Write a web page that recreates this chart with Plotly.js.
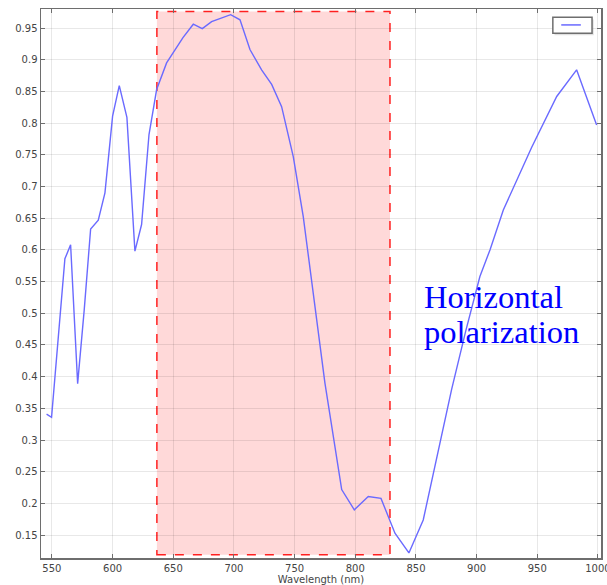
<!DOCTYPE html>
<html>
<head>
<meta charset="utf-8">
<script src="https://cdn.plot.ly/plotly-3.0.1.min.js"></script>
<style>html,body{margin:0;padding:0;background:#fff;}#chart{width:607px;height:585px;}</style>
</head>
<body>
<div id="chart"></div>
<script>
const wavelength = [545.6, 549.7, 560.7, 565.4, 571.2, 576.6, 581.9, 588.2, 593.7, 600, 605.5, 611.8, 618.4, 623.9, 630, 636.3, 644.5, 651.4, 658, 666.5, 673.9, 681.6, 689.9, 697.3, 705, 713.2, 722.8, 731.1, 739.3, 748.9, 757.1, 765.4, 775, 788.8, 799.2, 810.7, 821.2, 832.7, 844.2, 856, 867.5, 879.4, 891, 902.7, 911, 922, 945.4, 966, 982.4, 998.9];
const response = [0.341, 0.336, 0.586, 0.608, 0.389, 0.505, 0.633, 0.647, 0.690, 0.811, 0.859, 0.809, 0.598, 0.640, 0.782, 0.853, 0.895, 0.916, 0.935, 0.956, 0.949, 0.960, 0.966, 0.971, 0.963, 0.916, 0.884, 0.861, 0.826, 0.747, 0.653, 0.532, 0.390, 0.222, 0.190, 0.211, 0.208, 0.153, 0.122, 0.174, 0.277, 0.380, 0.472, 0.558, 0.600, 0.663, 0.762, 0.842, 0.884, 0.797];
const bandStart = 636.5, bandEnd = 828.6;
const bandBottom = 0.119, bandTop = 0.976;
const xTicks = [550, 600, 650, 700, 750, 800, 850, 900, 950, 1000];
const labelLines = ['Horizontal', 'polarization'];
const lineColor = '#6a6aff';

const axisCommon = {
  showline: true, linecolor: '#6e6e6e', linewidth: 1.5, mirror: 'ticks',
  ticks: 'inside', ticklen: 4, tickcolor: '#6e6e6e',
  showgrid: true, gridcolor: 'rgba(0,0,0,0.09)', gridwidth: 1,
  zeroline: false, ticklabeloverflow: 'allow',
  tickfont: {family: 'DejaVu Sans', size: 10, color: '#444'}
};

const trace = {
  x: wavelength, y: response, type: 'scatter', mode: 'lines',
  name: ' ', line: {color: lineColor, width: 1.4}, showlegend: false
};

const layout = {
  width: 607, height: 585,
  margin: {l: 41, r: 6, t: 9, b: 27},
  paper_bgcolor: '#fff', plot_bgcolor: '#fff',
  xaxis: Object.assign({}, axisCommon, {
    range: [541, 1002.5], tickvals: xTicks,
    title: {text: 'Wavelength (nm)', font: {family: 'DejaVu Sans', size: 10, color: '#444'}, standoff: 2}
  }),
  yaxis: Object.assign({}, axisCommon, {
    range: [0.114, 0.980], dtick: 0.05, tick0: 0.15
  }),
  showlegend: false,
  shapes: [
    {
      type: 'rect', xref: 'x', yref: 'y', layer: 'below',
      x0: bandStart, x1: bandEnd, y0: bandBottom, y1: bandTop,
      fillcolor: '#ffd9d9', line: {color: '#ff2020', width: 1.5, dash: 'dash'}
    },
    {
      type: 'rect', xref: 'paper', yref: 'paper', layer: 'above',
      x0: 0.917, x1: 0.987, y0: 0.952, y1: 0.981,
      fillcolor: 'rgba(0,0,0,0.12)', line: {width: 0}
    },
    {
      type: 'rect', xref: 'paper', yref: 'paper', layer: 'above',
      x0: 0.914, x1: 0.984, y0: 0.956, y1: 0.985,
      fillcolor: '#fff', line: {color: '#6e6e6e', width: 1.5}
    },
    {
      type: 'line', xref: 'paper', yref: 'paper', layer: 'above',
      x0: 0.929, x1: 0.964, y0: 0.971, y1: 0.971,
      line: {color: lineColor, width: 1.5}
    }
  ],
  annotations: [
    {
      x: 855, y: 0.526, xref: 'x', yref: 'y', xanchor: 'left', yanchor: 'middle',
      text: labelLines[0], showarrow: false, align: 'left',
      font: {family: 'Liberation Serif', size: 32.5, color: '#0000ff'}
    },
    {
      x: 855, y: 0.471, xref: 'x', yref: 'y', xanchor: 'left', yanchor: 'middle',
      text: labelLines[1], showarrow: false, align: 'left',
      font: {family: 'Liberation Serif', size: 32.5, color: '#0000ff'}
    }
  ]
};

Plotly.newPlot('chart', [trace], layout, {displayModeBar: false, staticPlot: true});
</script>
</body>
</html>
